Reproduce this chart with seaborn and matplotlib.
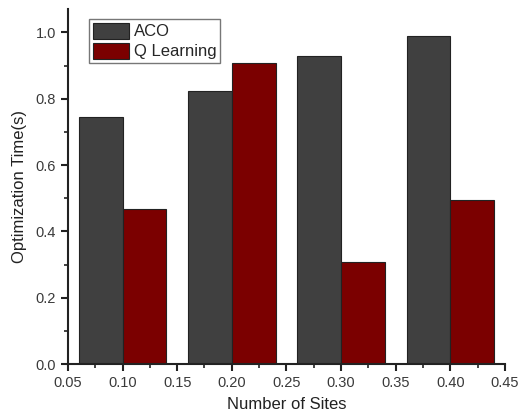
import matplotlib
matplotlib.use("Agg")
import matplotlib.pyplot as plt
import seaborn as sns
import pandas as pd
from matplotlib.ticker import MultipleLocator

sites = [0.1, 0.2, 0.3, 0.4]
aco = [0.744, 0.823, 0.930, 0.990]
qlearn = [0.467, 0.908, 0.308, 0.494]
series = ["ACO", "Q Learning"]
colors = ["#404040", "#7b0000"]

df = pd.DataFrame({
    "site": sites * 2,
    "time": aco + qlearn,
    "method": [series[0]] * len(sites) + [series[1]] * len(sites),
})

sns.set_style("ticks")
plt.rcParams["font.family"] = ["Liberation Sans", "DejaVu Sans"]

fig = plt.figure(figsize=(5.18, 4.16), dpi=100)
ax = fig.add_axes([0.131, 0.125, 0.844, 0.853])
sns.barplot(data=df, x="site", y="time", hue="method", native_scale=True,
            palette=colors, width=0.8, edgecolor="#222222", linewidth=0.8,
            ax=ax, errorbar=None, saturation=1)

ax.set_xlim(0.05, 0.45)
ax.set_ylim(0, 1.07)
ax.xaxis.set_minor_locator(MultipleLocator(0.025))
ax.yaxis.set_minor_locator(MultipleLocator(0.1))
ax.set_xticks([0.05, 0.10, 0.15, 0.20, 0.25, 0.30, 0.35, 0.40, 0.45])
ax.set_xticklabels(["0.05", "0.10", "0.15", "0.20", "0.25", "0.30", "0.35", "0.40", "0.45"])
ax.set_yticks([0.0, 0.2, 0.4, 0.6, 0.8, 1.0])
ax.set_yticklabels(["0.0", "0.2", "0.4", "0.6", "0.8", "1.0"])
for s in ["top", "right"]:
    ax.spines[s].set_visible(False)
for s in ["left", "bottom"]:
    ax.spines[s].set_linewidth(1.5)
    ax.spines[s].set_color("#222222")
ax.tick_params(which="major", direction="out", length=5, width=1.5, colors="#222222",
               labelsize=10.5, labelcolor="#3a3a3a")
ax.tick_params(which="minor", direction="out", length=3, width=1.2, colors="#222222")

ax.set_xlabel("Number of Sites", fontsize=12, color="#222222", labelpad=5)
ax.set_ylabel("Optimization Time(s)", fontsize=12, color="#222222", labelpad=6)

leg = ax.legend(loc="upper left", bbox_to_anchor=(0.03, 0.995), frameon=True,
                fancybox=False, edgecolor="#555555", fontsize=12,
                handlelength=2.2, handleheight=1.1, handletextpad=0.3,
                borderpad=0.2, labelspacing=0.2, borderaxespad=0.5)
leg.get_frame().set_linewidth(1.0)

fig.savefig("out.png", dpi=100)
